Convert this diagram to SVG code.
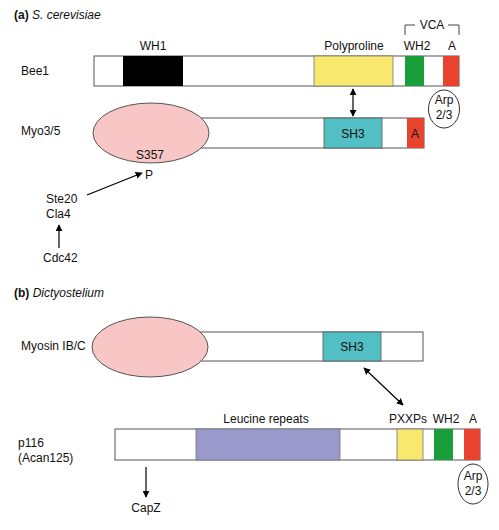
<svg xmlns="http://www.w3.org/2000/svg" width="499" height="530" viewBox="0 0 499 530">
<defs>
<marker id="ah" viewBox="0 0 10 10" refX="9" refY="5" markerWidth="7" markerHeight="7" markerUnits="userSpaceOnUse" orient="auto-start-reverse">
<path d="M0,0 L10,5 L0,10 z" fill="#000"/>
</marker>
</defs>
<style>
text{font-family:"Liberation Sans",Arial,Helvetica,sans-serif;font-size:12px;fill:#111}
.m{text-anchor:middle}
.bar{fill:#fff;stroke:#555;stroke-width:1}
.wh1{fill:#000;stroke:none}
.yel{fill:#f8e96e;stroke:#777;stroke-width:0.8}
.grn{fill:#1a9e3a;stroke:none}
.red{fill:#e8432e;stroke:none}
.sh3{fill:#52bfc4;stroke:#555;stroke-width:0.8}
.leu{fill:#9a99cc;stroke:#777;stroke-width:0.8}
.head{fill:#f9c6c6;stroke:#555;stroke-width:1}
.arp{fill:#fff;stroke:#333;stroke-width:1}
.ln{stroke:#000;stroke-width:1.2;fill:none}
.br{stroke:#444;stroke-width:1;fill:none}
</style>

<text x="14" y="19"><tspan font-weight="bold">(a)</tspan> <tspan font-style="italic">S. cerevisiae</tspan></text>
<text x="14" y="297"><tspan font-weight="bold">(b)</tspan> <tspan font-style="italic">Dictyostelium</tspan></text>

<g id="bee1">
<text x="21" y="75">Bee1</text>
<rect class="bar" x="94" y="56" width="365" height="30"/>
<rect class="wh1" x="123" y="56" width="60" height="30"/>
<rect class="yel" x="314" y="56" width="79" height="30"/>
<rect class="grn" x="405" y="56" width="19" height="30"/>
<rect class="red" x="443" y="56" width="16" height="30"/>
<text class="m" x="153" y="50">WH1</text>
<text class="m" x="354" y="50">Polyproline</text>
<text class="m" x="417" y="50">WH2</text>
<text class="m" x="452" y="50">A</text>
<path class="br" d="M405,35 V25 H415 M448,25 H459 V35"/>
<text class="m" x="432" y="29">VCA</text>
</g>

<g id="arp-a">
<ellipse class="arp" cx="444" cy="109" rx="15.5" ry="19"/>
<text class="m" x="444" y="104">Arp</text>
<text class="m" x="444" y="119">2/3</text>
</g>

<g id="myo35">
<text x="21" y="135">Myo3/5</text>
<rect class="bar" x="180" y="118" width="244" height="30"/>
<rect class="sh3" x="324" y="118" width="58" height="30"/>
<rect class="red" x="407" y="118" width="17" height="30"/>
<text class="m" x="353" y="138">SH3</text>
<text class="m" x="415" y="138">A</text>
<ellipse class="head" cx="151" cy="133" rx="58" ry="30"/>
<text class="m" x="150" y="159">S357</text>
<text class="m" x="149" y="179">P</text>
</g>

<g id="kinases">
<text x="46" y="203">Ste20</text>
<text x="46" y="218">Cla4</text>
</g>
<g id="cdc42">
<text x="43" y="262">Cdc42</text>
</g>

<g id="myoIBC">
<text x="21" y="350">Myosin IB/C</text>
<rect class="bar" x="180" y="332" width="243" height="29"/>
<rect class="sh3" x="323" y="332" width="58" height="29"/>
<text class="m" x="352" y="351">SH3</text>
<ellipse class="head" cx="150" cy="347" rx="58" ry="30"/>
</g>

<g id="p116">
<text x="18" y="447">p116</text>
<text x="18" y="462">(Acan125)</text>
<rect class="bar" x="115" y="429" width="365" height="31"/>
<rect class="leu" x="196" y="429" width="144" height="31"/>
<rect class="yel" x="397" y="429" width="26" height="31"/>
<rect class="grn" x="434" y="429" width="19" height="31"/>
<rect class="red" x="464" y="429" width="16" height="31"/>
<text class="m" x="266" y="423">Leucine repeats</text>
<text class="m" x="408" y="423">PXXPs</text>
<text class="m" x="446" y="423">WH2</text>
<text class="m" x="473" y="423">A</text>
</g>

<g id="arp-b">
<ellipse class="arp" cx="473" cy="484" rx="15" ry="20"/>
<text class="m" x="473" y="480">Arp</text>
<text class="m" x="473" y="495">2/3</text>
</g>

<g id="capz">
<text class="m" x="146" y="512">CapZ</text>
</g>

<g id="connectors">
<line class="ln" x1="353" y1="89" x2="353" y2="116" marker-start="url(#ah)" marker-end="url(#ah)"/>
<line class="ln" x1="87" y1="195" x2="142" y2="173" marker-end="url(#ah)"/>
<line class="ln" x1="59" y1="248" x2="59" y2="225" marker-end="url(#ah)"/>
<line class="ln" x1="364" y1="368" x2="403" y2="405" marker-start="url(#ah)" marker-end="url(#ah)"/>
<line class="ln" x1="146" y1="467" x2="146" y2="497" marker-end="url(#ah)"/>
</g>
</svg>
